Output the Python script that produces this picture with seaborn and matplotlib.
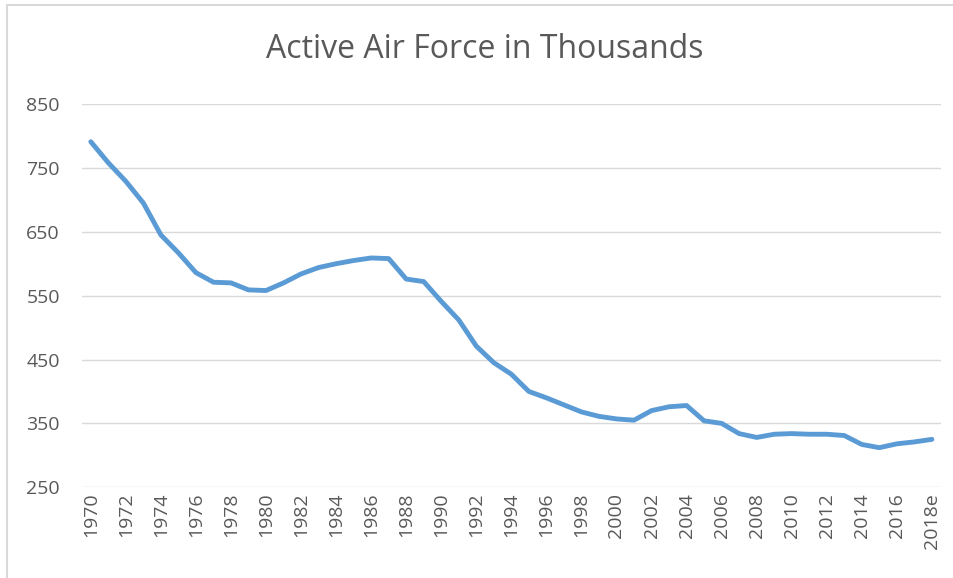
import matplotlib
matplotlib.use("Agg")
import matplotlib.pyplot as plt
import seaborn as sns
import pandas as pd
from matplotlib.lines import Line2D

# years on the category axis (the last one is an estimate)
years = [str(y) for y in range(1970, 2018)] + ["2018e"]
# active air force personnel, thousands
personnel = [
    791, 758, 729, 695, 645, 617, 586, 571, 570, 559,
    558, 570, 584, 594, 600, 605, 609, 608, 576, 572,
    541, 512, 471, 445, 427, 400, 390, 379, 368, 361,
    357, 355, 370, 376, 378, 354, 350, 334, 328, 333,
    334, 333, 333, 331, 317, 312, 318, 321, 325,
]
y_ticks = [250, 350, 450, 550, 650, 750, 850]

df = pd.DataFrame({"idx": range(len(years)), "year": years, "personnel": personnel})

sns.set_theme(style="white")
plt.rcParams["font.family"] = ["Open Sans", "DejaVu Sans"]

text_color = "#595959"
grid_color = "#D9D9D9"

fig = plt.figure(figsize=(9.54, 5.78), dpi=100)
ax = fig.add_axes([0.086, 0.157, 0.9, 0.663])

ax.set_yticks(y_ticks)
ax.yaxis.grid(True, color=grid_color, linewidth=1.0)
ax.set_axisbelow(True)

sns.lineplot(data=df, x="idx", y="personnel", ax=ax, color="#5B9BD5",
             linewidth=3.5, solid_joinstyle="round", solid_capstyle="round")

ax.set_xlim(-0.5, len(years) - 0.5)
ax.set_ylim(250, 850)
ax.set_xticks(df["idx"][::2])
ax.set_xticklabels(df["year"][::2], rotation=90)
ax.set_xlabel("")
ax.set_ylabel("")
ax.tick_params(axis="both", length=0, labelsize=14, colors=text_color)
ax.tick_params(axis="y", pad=16)
ax.tick_params(axis="x", pad=4)
for s in ax.spines.values():
    s.set_visible(False)

fig.text(0.508, 0.9, "Active Air Force in Thousands", ha="center", va="baseline",
         fontsize=23, color=text_color)

# chart frame: only the top and left edges are visible in the crop
fig.lines.append(Line2D([0.007, 0.007, 1.0], [0.0, 0.991, 0.991], transform=fig.transFigure,
                        color=grid_color, linewidth=1.5))

fig.savefig("out.png", dpi=100)
